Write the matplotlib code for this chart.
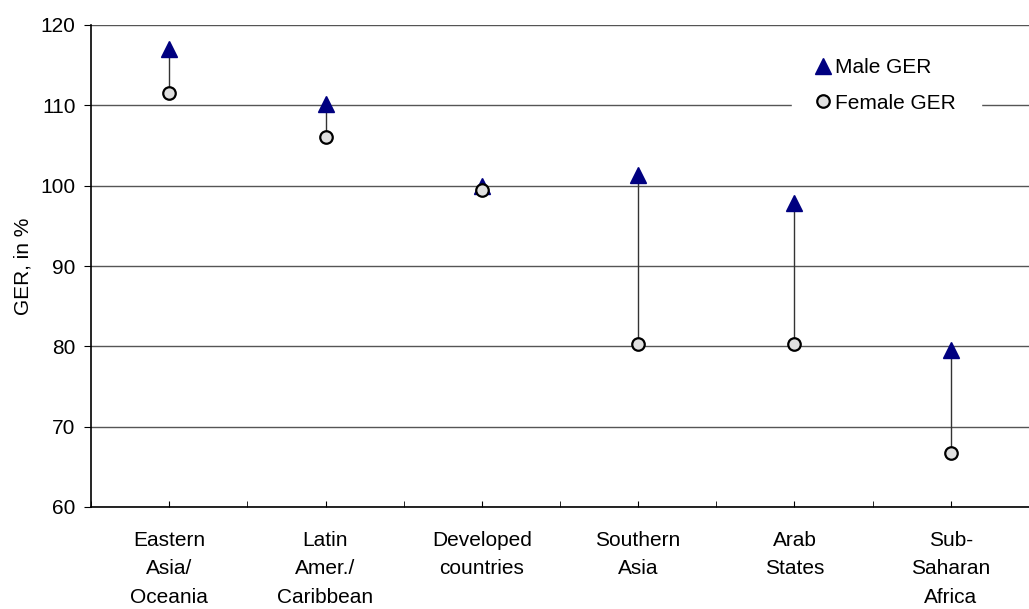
import numpy as np
import matplotlib.pyplot as plt

plt.rcParams['font.family'] = ['Liberation Sans', 'DejaVu Sans']

regions = ["Eastern\nAsia/\nOceania", "Latin\nAmer./\nCaribbean", "Developed\ncountries",
           "Southern\nAsia", "Arab\nStates", "Sub-\nSaharan\nAfrica"]
male_ger = [117.0, 110.2, 99.9, 101.3, 97.8, 79.5]
female_ger = [111.5, 106.0, 99.5, 80.3, 80.3, 66.7]

x = np.arange(len(regions))

fig = plt.figure(figsize=(10.29, 6.09), dpi=100)
ax = fig.add_axes([91 / 1029, 1 - 507 / 609, 1 - 91 / 1029, (507 - 25) / 609])

# gap lines between female and male values
ax.vlines(x, female_ger, male_ger, color='#333333', linewidth=1.0, zorder=2)
ax.plot(x, male_ger, linestyle='none', marker='^', markersize=11,
        color='#000080', label='Male GER', zorder=3)
ax.plot(x, female_ger, linestyle='none', marker='o', markersize=9,
        markerfacecolor='#e0e0e0', markeredgecolor='black', markeredgewidth=1.6,
        label='Female GER', zorder=4)

ax.set_ylim(60, 120)
ax.set_xlim(-0.5, 5.43)
ax.set_yticks(range(60, 121, 10))
ax.yaxis.grid(True, color='#555555', linewidth=1.0)
ax.set_axisbelow(True)

ax.set_xticks(x)
ax.set_xticklabels(regions, linespacing=1.65)
ax.set_xticks(np.arange(-0.5, 5.6, 0.5), minor=True)
ax.tick_params(axis='x', which='both', direction='in', length=4, pad=17, labelsize=15)
ax.tick_params(axis='y', direction='out', length=5, pad=6, labelsize=15)

for s in ['top', 'right']:
    ax.spines[s].set_visible(False)
ax.spines['left'].set_linewidth(1.2)
ax.spines['bottom'].set_linewidth(1.2)

ax.set_ylabel('GER, in %', fontsize=15, labelpad=6)

leg = ax.legend(loc='upper left', bbox_to_anchor=(792 / 1029, 1 - 33 / 609),
                bbox_transform=fig.transFigure, frameon=True, fontsize=15,
                handlelength=0.6, handletextpad=0.28, labelspacing=0.8,
                borderpad=1.2, borderaxespad=0)
leg.get_frame().set_edgecolor('white')
leg.get_frame().set_facecolor('white')
leg.get_frame().set_alpha(1)
leg.get_frame().set_boxstyle('square', pad=0)

fig.savefig('out.png', dpi=100)
